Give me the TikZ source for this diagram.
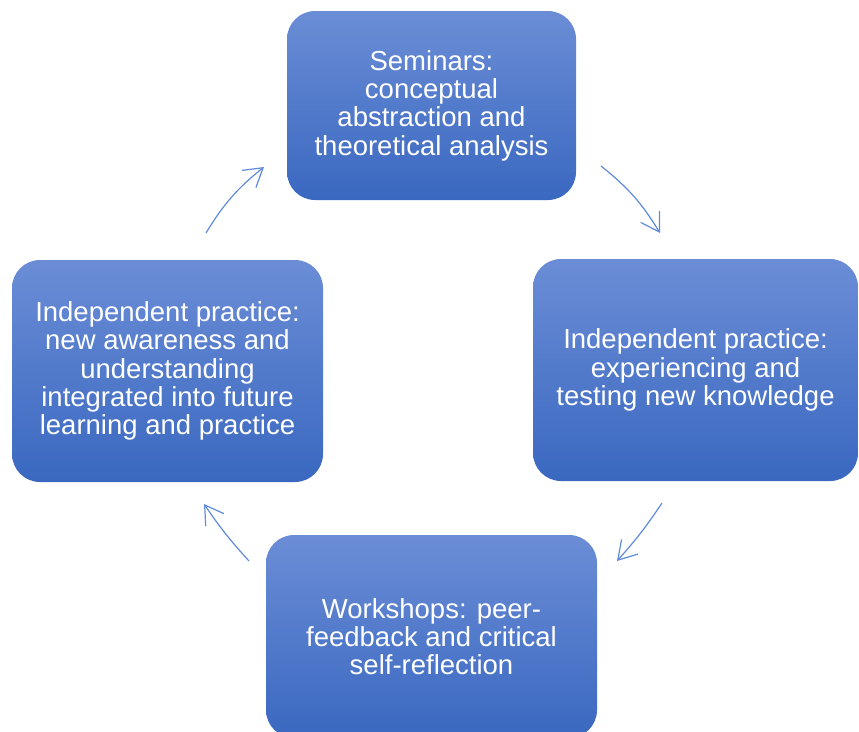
\documentclass[tikz,border=0pt]{standalone}
\usepackage{fontspec}
\setmainfont{Liberation Sans}
\usetikzlibrary{arrows.meta}
\definecolor{boxtop}{RGB}{107,141,214}
\definecolor{boxbot}{RGB}{58,104,192}
\definecolor{arrowc}{RGB}{96,138,218}
\begin{document}
\begin{tikzpicture}[x=1pt,y=-1pt,
  card/.style={shade, top color=boxtop, bottom color=boxbot, rounded corners=28pt,
    align=center, text=white, font=\fontsize{27.5}{28.3}\selectfont, inner sep=0pt},
  arr/.style={draw=arrowc, line width=1.2pt, -{Straight Barb[length=18pt,width=22pt]}}]
\useasboundingbox (0,0) rectangle (859,731);
\clip (0,0) rectangle (859,731);
\node[card, minimum width=289pt, minimum height=189pt] (sem) at (431.5,105.5)
  {Seminars:\\conceptual\\abstraction and\\theoretical analysis};
\node[card, minimum width=325pt, minimum height=222pt] (exp) at (695.5,370)
  {Independent practice:\\experiencing and\\testing new knowledge};
\node[card, minimum width=331pt, minimum height=203pt] (work) at (431.5,636.5)
  {Workshops: peer-\\feedback and critical\\self-reflection};
\node[card, minimum width=311pt, minimum height=222pt] (aware) at (167.5,371)
  {Independent practice:\\new awareness and\\understanding\\integrated into future\\learning and practice};
\coordinate (a1s) at (601,166); \coordinate (a1e) at (660,233);
\coordinate (a2s) at (662,503); \coordinate (a2e) at (617,561);
\coordinate (a3s) at (249,561); \coordinate (a3e) at (204,504);
\coordinate (a4s) at (206,233); \coordinate (a4e) at (264,167);
\draw[arr] (a1s) to[bend left=10] (a1e);
\draw[arr] (a2s) to[bend left=4] (a2e);
\draw[arr] (a3s) to[bend left=4] (a3e);
\draw[arr] (a4s) to[bend left=10] (a4e);
\end{tikzpicture}
\end{document}
